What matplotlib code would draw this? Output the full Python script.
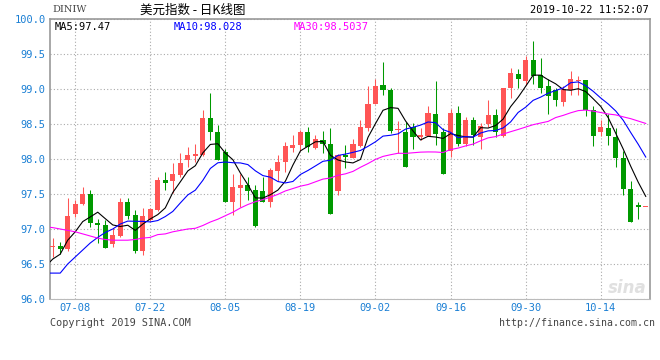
import matplotlib
matplotlib.use('Agg')
import matplotlib.pyplot as plt
import numpy as np
import pandas as pd

# trading days shown (07-03 .. 10-22)
dates = pd.bdate_range('2019-07-03', '2019-10-22')

opens = [96.75, 96.76, 96.71, 97.21, 97.36, 97.50, 97.08, 97.06, 96.78, 96.90,
         97.38, 97.20, 96.68, 97.13, 97.27, 97.70, 97.68, 97.77, 97.99, 98.04,
         98.06, 98.59, 98.39, 98.10, 97.39, 97.59, 97.63, 97.56, 97.54, 97.38,
         97.83, 97.96, 98.16, 98.20, 98.38, 98.16, 98.27, 98.21, 97.55, 98.06,
         98.02, 98.19, 98.45, 98.79, 99.06, 98.98, 98.41, 98.39, 98.45, 98.31,
         98.33, 98.64, 98.38, 98.11, 98.66, 98.22, 98.56, 98.31, 98.50, 98.63,
         98.33, 99.02, 99.21, 99.12, 99.41, 99.20, 99.04, 98.98, 98.82, 98.99,
         99.12, 99.13, 98.70, 98.38, 98.44, 98.31, 98.02, 97.57, 97.34, 97.32]
highs = [96.87, 96.82, 97.45, 97.42, 97.60, 97.56, 97.15, 97.13, 97.01, 97.45,
         97.44, 97.27, 97.30, 97.30, 97.74, 97.81, 97.95, 98.09, 98.17, 98.21,
         98.70, 98.95, 98.49, 98.15, 97.79, 97.79, 97.74, 97.63, 97.75, 97.87,
         98.06, 98.25, 98.34, 98.41, 98.46, 98.34, 98.40, 98.45, 98.07, 98.20,
         98.28, 98.56, 99.04, 99.14, 99.38, 99.02, 98.55, 98.53, 98.52, 98.45,
         98.76, 99.11, 98.44, 98.72, 98.76, 98.60, 98.60, 98.52, 98.85, 98.71,
         99.02, 99.30, 99.28, 99.47, 99.69, 99.44, 99.14, 99.02, 99.04, 99.26,
         99.18, 99.13, 98.76, 98.56, 98.64, 98.44, 98.12, 97.68, 97.39, 97.32]
lows = [96.60, 96.65, 96.69, 97.17, 97.34, 97.03, 96.80, 96.73, 96.74, 96.88,
        97.14, 96.66, 96.63, 97.12, 97.26, 97.56, 97.51, 97.75, 97.88, 97.96,
        98.04, 98.27, 97.99, 97.39, 97.20, 97.32, 97.42, 97.03, 97.38, 97.32,
        97.68, 97.82, 98.10, 98.12, 98.10, 98.14, 98.08, 97.21, 97.49, 97.87,
        98.02, 98.17, 98.40, 98.78, 98.91, 98.37, 98.09, 97.89, 98.15, 98.27,
        98.33, 98.20, 97.79, 98.03, 98.19, 98.19, 98.20, 98.14, 98.46, 98.31,
        98.31, 98.87, 99.01, 99.06, 99.07, 98.94, 98.65, 98.76, 98.76, 98.91,
        98.91, 98.61, 98.19, 98.33, 98.20, 97.89, 97.49, 97.10, 97.14, 97.32]
closes = [96.76, 96.72, 97.19, 97.36, 97.50, 97.09, 97.06, 96.73, 96.91, 97.39,
          97.18, 96.69, 97.18, 97.28, 97.70, 97.66, 97.79, 97.94, 98.06, 98.07,
          98.58, 98.39, 97.99, 97.39, 97.60, 97.63, 97.55, 97.05, 97.38, 97.84,
          97.96, 98.19, 98.20, 98.39, 98.17, 98.28, 98.21, 97.21, 98.06, 98.03,
          98.21, 98.46, 98.79, 99.04, 98.98, 98.40, 98.41, 97.89, 98.32, 98.34,
          98.66, 98.36, 97.79, 98.66, 98.21, 98.56, 98.34, 98.47, 98.63, 98.39,
          99.02, 99.23, 99.14, 99.41, 99.19, 99.02, 98.90, 98.85, 99.00, 99.14,
          99.13, 98.70, 98.33, 98.46, 98.33, 98.02, 97.57, 97.10, 97.32, 97.32]

# moving averages as drawn, starting one day earlier (07-02)
ma5 = [96.46, 96.57, 96.64, 96.84, 96.96, 97.106, 97.172, 97.24, 97.148, 97.058, 97.036,
       97.054, 96.98, 97.07, 97.144, 97.206, 97.302, 97.522, 97.674, 97.83, 97.904,
       98.088, 98.208, 98.218, 98.084, 97.99, 97.80, 97.632, 97.444, 97.442, 97.49,
       97.556, 97.684, 97.914, 98.116, 98.182, 98.246, 98.25, 98.052, 97.986, 97.958,
       97.944, 97.994, 98.31, 98.506, 98.696, 98.734, 98.724, 98.544, 98.40, 98.272,
       98.324, 98.314, 98.294, 98.362, 98.336, 98.316, 98.312, 98.448, 98.442, 98.478,
       98.57, 98.748, 98.882, 99.038, 99.198, 99.198, 99.132, 99.074, 98.992, 98.982,
       99.004, 98.964, 98.86, 98.752, 98.59, 98.368, 98.142, 97.896, 97.668, 97.466]
ma10 = [96.37, 96.37, 96.37, 96.50, 96.60, 96.70, 96.80, 96.88, 96.95, 97.00, 97.071,
        97.113, 97.11, 97.109, 97.101, 97.121, 97.178, 97.251, 97.372, 97.487, 97.555,
        97.695, 97.865, 97.946, 97.957, 97.947, 97.944, 97.92, 97.831, 97.763, 97.74,
        97.678, 97.658, 97.679, 97.779, 97.836, 97.901, 97.967, 97.983, 98.051, 98.07,
        98.095, 98.122, 98.181, 98.246, 98.327, 98.339, 98.359, 98.427, 98.453, 98.484,
        98.529, 98.519, 98.419, 98.381, 98.304, 98.32, 98.313, 98.371, 98.402, 98.407,
        98.443, 98.53, 98.665, 98.74, 98.838, 98.884, 98.94, 98.978, 99.015, 99.09,
        99.101, 99.048, 98.967, 98.872, 98.786, 98.686, 98.553, 98.378, 98.21, 98.028]
ma30 = [97.03, 97.02, 97.00, 96.98, 96.96, 96.93, 96.90, 96.87, 96.85, 96.84, 96.84,
        96.84, 96.85, 96.87, 96.88, 96.92, 96.93, 96.96, 96.98, 97.00, 97.01,
        97.05, 97.10, 97.14, 97.19, 97.24, 97.30, 97.35, 97.39, 97.42, 97.455,
        97.495, 97.544, 97.578, 97.612, 97.635, 97.674, 97.713, 97.729, 97.767, 97.788,
        97.823, 97.882, 97.935, 97.994, 98.037, 98.061, 98.082, 98.080, 98.089, 98.098,
        98.101, 98.100, 98.093, 98.135, 98.156, 98.187, 98.213, 98.260, 98.302, 98.320,
        98.356, 98.390, 98.422, 98.456, 98.490, 98.514, 98.537, 98.592, 98.623, 98.660,
        98.691, 98.699, 98.684, 98.664, 98.643, 98.630, 98.602, 98.576, 98.542, 98.508]

tick_labels = ['07-08', '07-22', '08-05', '08-19', '09-02', '09-16', '09-30', '10-14']
y_ticks = [96.0, 96.5, 97.0, 97.5, 98.0, 98.5, 99.0, 99.5, 100.0]

UP = '#ff5555'
DOWN = '#009900'
AXIS_BLUE = '#1a7fd4'
MONO = 'DejaVu Sans Mono'

fig = plt.figure(figsize=(6.6, 3.6), dpi=100)
ax = fig.add_axes([50 / 660, 61 / 360, 599.5 / 660, 280 / 360])

x = np.arange(len(dates))
o = np.array(opens)
c = np.array(closes)
colors = [UP if cc >= oo else DOWN for oo, cc in zip(o, c)]

ax.vlines(x, lows, highs, colors=colors, linewidth=0.75, zorder=3)
body = np.maximum(np.abs(c - o), 0.014)
ax.bar(x, body, bottom=np.minimum(o, c), width=0.68, color=colors,
       linewidth=0, zorder=4)

mx = np.arange(-1, len(dates))
ax.plot(mx, ma5, color='black', lw=0.8, zorder=5)
ax.plot(mx, ma10, color='#0000ff', lw=0.8, zorder=5)
ax.plot(mx, ma30, color='#ff00ff', lw=0.8, zorder=5)

labels = list(dates.strftime('%m-%d'))
tick_pos = [labels.index(t) for t in tick_labels]

ax.set_xlim(-0.36, 79.5)
ax.set_ylim(96.0, 100.0)
ax.set_xticks(tick_pos)
ax.set_xticklabels(tick_labels)
ax.set_yticks(y_ticks)
ax.set_yticklabels(['%.1f' % v for v in y_ticks])
ax.tick_params(length=0, colors=AXIS_BLUE, labelsize=7.5, pad=3)
for lab in ax.get_xticklabels() + ax.get_yticklabels():
    lab.set_family(MONO)
ax.grid(True, color='#aaaaaa', linestyle=(0, (1, 2)), linewidth=0.8)
ax.set_axisbelow(True)
for side in ['left', 'right', 'top']:
    ax.spines[side].set_color('#999999')
    ax.spines[side].set_linewidth(1.2)
ax.spines['bottom'].set_color('#bbbbbb')
ax.spines['bottom'].set_linestyle((0, (1, 1)))

# legend row inside the frame
fig.text(55 / 660, 1 - 27 / 360, 'MA5:%.2f' % ma5[-1], color='black',
         family=MONO, fontsize=7.5, va='center')
fig.text(174 / 660, 1 - 27 / 360, 'MA10:%.3f' % ma10[-1], color='#0000ff',
         family=MONO, fontsize=7.5, va='center')
fig.text(294 / 660, 1 - 27 / 360, 'MA30:%.4f' % 98.5037, color='#ff00ff',
         family=MONO, fontsize=7.5, va='center')

# header
fig.text(52 / 660, 1 - 10 / 360, 'DINIW', color='#444444', family='DejaVu Serif',
         fontsize=7, va='center')
fig.text(140 / 660, 1 - 10 / 360, '美元指数 - 日K线图', color='black',
         family=['Noto Sans CJK SC', 'DejaVu Sans'], fontsize=9, va='center')
fig.text(649 / 660, 1 - 10 / 360, '2019-10-22 11:52:07', color='black',
         family=MONO, fontsize=7.5, va='center', ha='right')

# footer
fig.text(50 / 660, 1 - 323 / 360, 'Copyright 2019 SINA.COM', color='#444444',
         family=MONO, fontsize=7.3, va='center')
fig.text(655 / 660, 1 - 323 / 360, 'http://finance.sina.com.cn', color='#444444',
         family=MONO, fontsize=7.1, va='center', ha='right')

# watermark
fig.text(647 / 660, 1 - 288 / 360, 'sina', color='#e0e0e0', fontsize=12,
         fontweight='bold', style='italic', ha='right', va='center')

fig.savefig('out.png', dpi=100, facecolor='white')
